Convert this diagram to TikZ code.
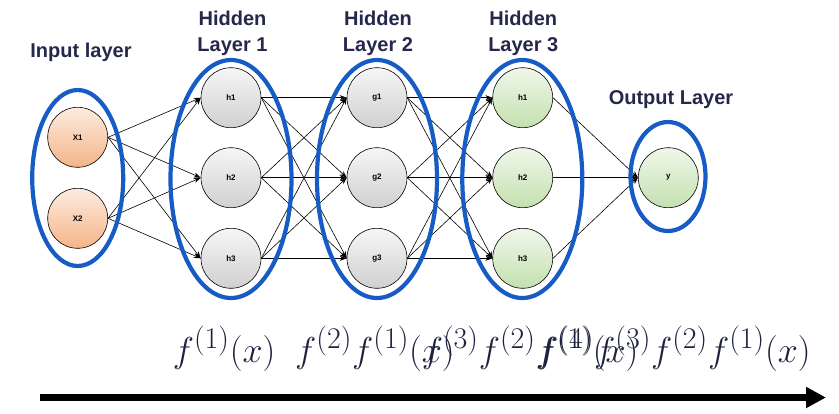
\documentclass[tikz,border=0pt]{standalone}
\usepackage{fontspec}
\newfontfamily\labfont{Liberation Sans}
\usetikzlibrary{arrows.meta,shapes.geometric}
\definecolor{ringblue}{RGB}{22,92,196}
\definecolor{navy}{RGB}{38,40,75}
\definecolor{mathnavy}{RGB}{30,34,62}
\definecolor{orangetop}{RGB}{253,236,224}
\definecolor{orangebot}{RGB}{244,180,136}
\definecolor{graytop}{RGB}{246,246,246}
\definecolor{graybot}{RGB}{208,208,208}
\definecolor{greentop}{RGB}{240,247,234}
\definecolor{greenbot}{RGB}{196,224,176}
\newcommand{\bigmath}[1]{\scalebox{1.447}{\Huge$#1$}}
\begin{document}
\begin{tikzpicture}[x=1pt,y=-1pt,
  neuron/.style={circle,draw=black,line width=0.6pt,minimum size=60pt,inner sep=0pt,
    font=\labfont\bfseries\fontsize{8}{9}\selectfont},
  inp/.style={neuron,top color=orangetop,bottom color=orangebot},
  hid/.style={neuron,top color=graytop,bottom color=graybot},
  outn/.style={neuron,top color=greentop,bottom color=greenbot},
  ring/.style={ellipse,draw=ringblue,line width=4.2pt,inner sep=0pt},
  edge/.style={draw=black,line width=0.6pt,-{Stealth[length=7pt,width=5pt]}},
  lab/.style={font=\labfont\bfseries\fontsize{20}{26}\selectfont,text=navy,align=center},
  formula/.style={anchor=base west,inner sep=0pt,text=mathnavy}
]
\useasboundingbox (0,0) rectangle (839,413);

% neurons
\node[inp] (x1) at (77.7,137.3) {X1};
\node[inp] (x2) at (77.7,218.3) {X2};
\node[hid] (a1) at (231,97.7) {h1};
\node[hid] (a2) at (231,177.7) {h2};
\node[hid] (a3) at (231,258.3) {h3};
\node[hid] (b1) at (377,97.7) {g1};
\node[hid] (b2) at (377,177.7) {g2};
\node[hid] (b3) at (377,258.3) {g3};
\node[outn] (c1) at (522.7,97.7) {h1};
\node[outn] (c2) at (522.7,177.7) {h2};
\node[outn] (c3) at (522.7,258.3) {h3};
\node[outn] (y) at (668.3,177.7) {y};

% connectors
\foreach \s in {x1,x2}{\foreach \t in {a1,a2,a3}{\draw[edge] (\s.east) -- (\t.west);}}
\foreach \s in {a1,a2,a3}{\foreach \t in {b1,b2,b3}{\draw[edge] (\s.east) -- (\t.west);}}
\foreach \s in {b1,b2,b3}{\foreach \t in {c1,c2,c3}{\draw[edge] (\s.east) -- (\t.west);}}
\foreach \s in {c1,c2,c3}{\draw[edge] (\s.east) -- (y.west);}

% layer rings
\node[ring,minimum width=91pt,minimum height=176pt] (r0) at (77.7,178) {};
\node[ring,minimum width=121pt,minimum height=238pt] (r1) at (231,179) {};
\node[ring,minimum width=120pt,minimum height=238pt] (r2) at (377,179) {};
\node[ring,minimum width=120pt,minimum height=238pt] (r3) at (522.3,179) {};
\node[ring,minimum width=75pt,minimum height=109pt] (r4) at (668,176.5) {};

% layer labels
\node[lab] (l0) at (81,52) {Input layer};
\node[lab] (l1) at (232.5,33) {Hidden\\Layer 1};
\node[lab] (l2) at (378,33) {Hidden\\Layer 2};
\node[lab] (l3) at (523.3,33) {Hidden\\Layer 3};
\node[lab] (l4) at (671,100) {Output Layer};

% formulas
\node[formula] (t1) at (172.7,362) {\bigmath{f^{(1)}(x)}};
\node[formula] (t2) at (295,362) {\bigmath{f^{(2)}f^{(1)}(x)}};
\node[formula] (t3) at (421.7,362) {\bigmath{f^{(3)}f^{(2)}f^{(1)}(x)}};
\node[formula] (t4) at (537,362) {\bigmath{f^{(4)}f^{(3)}f^{(2)}f^{(1)}(x)}};

% time arrow
\coordinate (as) at (40,397.5);
\coordinate (ae) at (826,397.5);
\draw[line width=7pt,-{Triangle[length=20pt,width=20pt]}] (as) -- (ae);
\end{tikzpicture}
\end{document}
